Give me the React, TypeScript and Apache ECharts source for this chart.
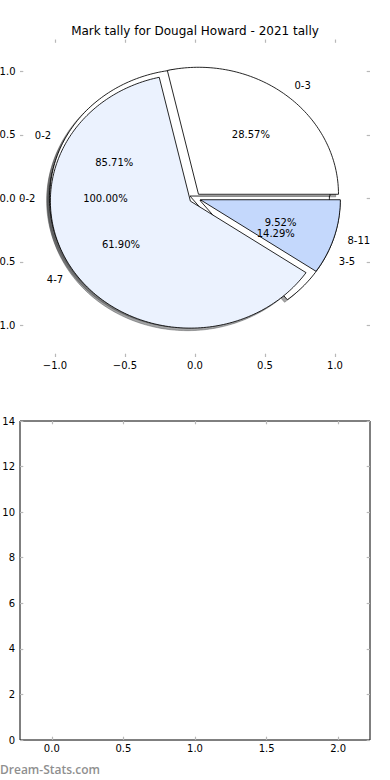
import React, { useEffect, useRef } from "react";
import * as echarts from "echarts";

// ---------- data ----------
const chartTitle = "Mark tally for Dougal Howard - 2021 tally";
const watermarkText = "Dream-Stats.com";

const pieCLabels = ["0-2"];
const pieCValues = [21];
const pieBLabels = ["0-2", "3-5"];
const pieBValues = [18, 3];
const pieALabels = ["0-3", "4-7", "8-11"];
const pieAValues = [6, 13, 2];

const pieTickValues = [-1, -0.5, 0, 0.5, 1];
const barXTickValues = [0, 0.5, 1, 1.5, 2];
const barYMax = 14;
const barYStep = 2;

// ---------- styles ----------
const pieCColors = ["#ffffff"];
const pieBColors = ["#ffffff", "#ffffff"];
const pieAColors = ["#ffffff", "#ebf2fe", "#c4d8fc"];
const EXPLODE = 0.04;
const SHADOW_DX = -0.02;
const SHADOW_DY = -0.02;
const FONT = '"DejaVu Sans", sans-serif';
const TICK_COLOR = "#b8b8b8";

type Wedge = {
  t1: number;
  t2: number;
  tm: number;
  cx: number;
  cy: number;
  color: string;
  label: string;
  pct: string;
};

function buildPie(values: number[], labels: string[], colors: string[]): Wedge[] {
  const total = values.reduce((a, b) => a + b, 0);
  let t1 = 0;
  return values.map((v, i) => {
    const frac = v / total;
    const t2 = t1 + 360 * frac;
    const tm = (((t1 + t2) / 2) * Math.PI) / 180;
    const w: Wedge = {
      t1,
      t2,
      tm,
      cx: EXPLODE * Math.cos(tm),
      cy: EXPLODE * Math.sin(tm),
      color: colors[i],
      label: labels[i],
      pct: (100 * frac).toFixed(2) + "%",
    };
    t1 = t2;
    return w;
  });
}

function wedgePoints(w: Wedge, dx = 0, dy = 0): number[][] {
  const span = w.t2 - w.t1;
  const full = Math.abs(span - 360) < 1e-6;
  const n = Math.max(8, Math.ceil(span / 1.2));
  const pts: number[][] = [];
  if (!full) pts.push([w.cx + dx, w.cy + dy]);
  for (let k = 0; k <= n; k++) {
    const a = ((w.t1 + (span * k) / n) * Math.PI) / 180;
    pts.push([w.cx + dx + Math.cos(a), w.cy + dy + Math.sin(a)]);
  }
  return pts;
}

function shadowColor(hex: string): string {
  const r = parseInt(hex.slice(1, 3), 16) * 0.3;
  const g = parseInt(hex.slice(3, 5), 16) * 0.3;
  const b = parseInt(hex.slice(5, 7), 16) * 0.3;
  return `rgba(${Math.round(r)},${Math.round(g)},${Math.round(b)},0.5)`;
}

const fmtMinus = (v: number, digits: number) => {
  const s = Math.abs(v).toFixed(digits);
  return v < -1e-9 ? "\u2212" + s : s;
};

export default function App() {
  const ref = useRef<HTMLDivElement>(null);

  useEffect(() => {
    if (!ref.current) return;
    const chart = echarts.init(ref.current, undefined, { renderer: "svg" });

    const pieC = buildPie(pieCValues, pieCLabels, pieCColors);
    const pieB = buildPie(pieBValues, pieBLabels, pieBColors);
    const pieA = buildPie(pieAValues, pieALabels, pieAColors);
    const pies = [pieC, pieB, pieA];
    const allWedges = ([] as Wedge[]).concat(pieC, pieB, pieA);

    type TextItem = { x: number; y: number; text: string; align: string };
    const texts: TextItem[] = [];
    allWedges.forEach((w) => {
      const lx = w.cx + 1.1 * Math.cos(w.tm);
      const ly = w.cy + 1.1 * Math.sin(w.tm);
      texts.push({ x: lx, y: ly, text: w.label, align: lx > 0 ? "left" : "right" });
      texts.push({
        x: w.cx + 0.6 * Math.cos(w.tm),
        y: w.cy + 0.6 * Math.sin(w.tm),
        text: w.pct,
        align: "center",
      });
    });

    const wedgeSeries = pies.map((pie) => ({
      type: "custom",
      xAxisIndex: 0,
      yAxisIndex: 0,
      silent: true,
      data: pie.map((w) => [w.cx, w.cy]),
      renderItem: (params: any, api: any) => {
        const w = pie[params.dataIndex];
        const points = wedgePoints(w).map((p) => api.coord(p));
        return {
          type: "polygon",
          shape: { points },
          style: { fill: w.color, stroke: "#000", lineWidth: 0.85, lineJoin: "miter" },
        };
      },
    }));

    const axisLabelStyle = { color: "#000", fontSize: 10, fontFamily: FONT };
    const tickStyle = (len: number) => ({
      show: true,
      inside: true,
      length: len,
      lineStyle: { color: TICK_COLOR, width: 1.2 },
    });
    const noLine = { show: false, onZero: false };

    const option: any = {
      animation: false,
      backgroundColor: "#fff",
      title: {
        text: chartTitle,
        left: "center",
        top: 20,
        textStyle: { fontSize: 12, fontWeight: "normal", color: "#000", fontFamily: FONT },
      },
      grid: [
        {
          left: 20,
          top: 39.5,
          width: 350,
          height: 317.5,
          show: false,
          containLabel: false,
          outerBoundsMode: "none",
        },
        {
          left: 20,
          top: 421,
          width: 350,
          height: 319,
          show: true,
          borderColor: "#000",
          borderWidth: 1,
          backgroundColor: "transparent",
          containLabel: false,
          outerBoundsMode: "none",
        },
      ],
      xAxis: [
        {
          type: "value",
          gridIndex: 0,
          min: -1.25,
          max: 1.25,
          position: "bottom",
          axisLine: noLine,
          splitLine: { show: false },
          axisTick: { ...tickStyle(3.3), customValues: pieTickValues },
          axisLabel: {
            ...axisLabelStyle,
            margin: 3,
            customValues: pieTickValues,
            formatter: (v: number) => fmtMinus(v, 1),
          },
        },
        {
          type: "value",
          gridIndex: 1,
          min: -0.222,
          max: 2.222,
          position: "bottom",
          axisLine: noLine,
          splitLine: { show: false },
          axisTick: { ...tickStyle(3.3), customValues: barXTickValues },
          axisLabel: {
            ...axisLabelStyle,
            margin: 3,
            customValues: barXTickValues,
            formatter: (v: number) => fmtMinus(v, 1),
          },
        },
        {
          type: "value",
          gridIndex: 0,
          min: -1.25,
          max: 1.25,
          position: "top",
          axisLine: noLine,
          splitLine: { show: false },
          axisTick: { ...tickStyle(3.3), customValues: pieTickValues },
          axisLabel: { show: false },
        },
        {
          type: "value",
          gridIndex: 1,
          min: -0.222,
          max: 2.222,
          position: "top",
          axisLine: noLine,
          splitLine: { show: false },
          axisTick: { ...tickStyle(3.3), customValues: barXTickValues },
          axisLabel: { show: false },
        },
      ],
      yAxis: [
        {
          type: "value",
          gridIndex: 0,
          min: -1.25,
          max: 1.25,
          position: "left",
          axisLine: noLine,
          splitLine: { show: false },
          axisTick: { ...tickStyle(3.3), customValues: pieTickValues },
          axisLabel: {
            ...axisLabelStyle,
            margin: 4.5,
            customValues: pieTickValues,
            formatter: (v: number) => fmtMinus(v, 1),
          },
        },
        {
          type: "value",
          gridIndex: 1,
          min: 0,
          max: barYMax,
          interval: barYStep,
          position: "left",
          axisLine: noLine,
          splitLine: { show: false },
          axisTick: tickStyle(3.3),
          axisLabel: { ...axisLabelStyle, margin: 5, formatter: (v: number) => String(v) },
        },
        {
          type: "value",
          gridIndex: 0,
          min: -1.25,
          max: 1.25,
          position: "right",
          axisLine: noLine,
          splitLine: { show: false },
          axisTick: { ...tickStyle(3.3), customValues: pieTickValues },
          axisLabel: { show: false },
        },
        {
          type: "value",
          gridIndex: 1,
          min: 0,
          max: barYMax,
          interval: barYStep,
          position: "right",
          axisLine: noLine,
          splitLine: { show: false },
          axisTick: tickStyle(3.3),
          axisLabel: { show: false },
        },
      ],
      graphic: [
        {
          type: "text",
          left: 0,
          top: 763,
          style: {
            text: watermarkText,
            fill: "#8f8f8f",
            font: '600 12px "Open Sans", sans-serif',
          },
        },
      ],
      series: [
        {
          type: "custom",
          xAxisIndex: 0,
          yAxisIndex: 0,
          silent: true,
          data: allWedges.map((w) => [w.cx, w.cy]),
          renderItem: (params: any, api: any) => {
            const w = allWedges[params.dataIndex];
            const points = wedgePoints(w, SHADOW_DX, SHADOW_DY).map((p) => api.coord(p));
            const c = shadowColor(w.color);
            return {
              type: "polygon",
              shape: { points },
              style: { fill: c, stroke: c, lineWidth: 0.85 },
            };
          },
        },
        ...wedgeSeries,
        {
          type: "custom",
          xAxisIndex: 0,
          yAxisIndex: 0,
          silent: true,
          data: texts.map((t) => [t.x, t.y]),
          renderItem: (params: any, api: any) => {
            const t = texts[params.dataIndex];
            const p = api.coord([t.x, t.y]);
            return {
              type: "text",
              style: {
                x: p[0],
                y: p[1],
                text: t.text,
                fill: "#000",
                font: `10px ${FONT}`,
                textAlign: t.align,
                textVerticalAlign: "middle",
              },
            };
          },
        },
        {
          type: "scatter",
          xAxisIndex: 1,
          yAxisIndex: 1,
          data: [],
        },
      ],
    };

    chart.setOption(option);
    return () => chart.dispose();
  }, []);

  return (
    <div
      ref={ref}
      style={{ position: "absolute", left: 0, top: 0, width: 390, height: 780, background: "#fff" }}
    />
  );
}
